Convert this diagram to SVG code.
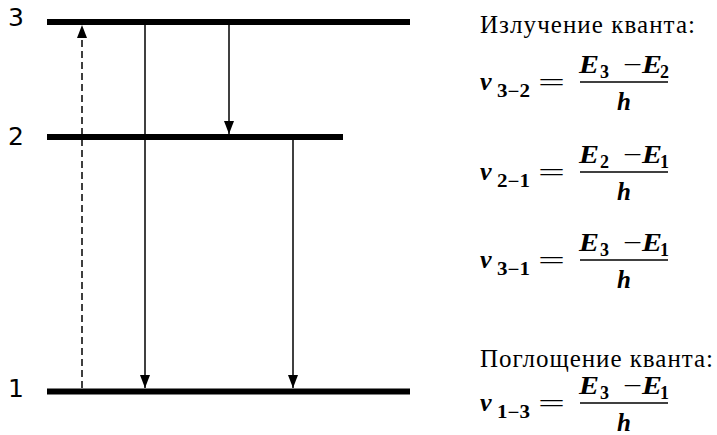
<svg xmlns="http://www.w3.org/2000/svg" width="717" height="435" viewBox="0 0 717 435">
<defs>
<marker id="ah" markerUnits="userSpaceOnUse" markerWidth="13" markerHeight="10" refX="13" refY="5" orient="auto">
<path d="M0,0 L13,5 L0,10 z" fill="#000"/>
</marker>
</defs>
<g id="level3"><line stroke="#000" stroke-width="6" x1="47" y1="22" x2="410" y2="22"/><text font-family="DejaVu Sans" font-size="25" x="8" y="26">3</text></g>
<g id="level2"><line stroke="#000" stroke-width="6" x1="47" y1="137" x2="343" y2="137"/><text font-family="DejaVu Sans" font-size="25" x="8" y="145">2</text></g>
<g id="level1"><line stroke="#000" stroke-width="6" x1="47" y1="391.5" x2="410" y2="391.5"/><text font-family="DejaVu Sans" font-size="25" x="8" y="397">1</text></g>
<g id="connectors" stroke="#000" stroke-width="1.5" fill="none">
<line x1="82" y1="388" x2="82" y2="25" stroke-dasharray="7,4" marker-end="url(#ah)"/>
<line x1="145" y1="25" x2="145" y2="388" marker-end="url(#ah)"/>
<line x1="229" y1="25" x2="229" y2="134" marker-end="url(#ah)"/>
<line x1="293" y1="140" x2="293" y2="388" marker-end="url(#ah)"/>
</g>
<line stroke="#000" stroke-width="1.5" x1="580" y1="82" x2="668" y2="82"/>
<line stroke="#000" stroke-width="1.5" x1="580" y1="172" x2="668" y2="172"/>
<line stroke="#000" stroke-width="1.5" x1="580" y1="260" x2="668" y2="260"/>
<line stroke="#000" stroke-width="1.5" x1="580" y1="403" x2="668" y2="403"/>
<text font-family="Liberation Serif" style="font-family:'Liberation Serif'" font-size="25" x="480" y="33" textLength="215" lengthAdjust="spacing">Излучение кванта:</text>
<text font-family="Liberation Serif" style="font-family:'Liberation Serif'" font-size="26" font-style="italic" font-weight="bold" x="480" y="90">ν</text>
<text font-family="Liberation Serif" style="font-family:'Liberation Serif'" font-size="18" font-weight="bold" x="497" y="97" textLength="33" lengthAdjust="spacingAndGlyphs">3−2</text>
<text font-family="Liberation Serif" style="font-family:'Liberation Serif'" font-size="25" x="538" y="91" textLength="27" lengthAdjust="spacingAndGlyphs">=</text>
<text font-family="Liberation Serif" style="font-family:'Liberation Serif'" font-size="25" font-style="italic" font-weight="bold" x="579" y="73" textLength="20" lengthAdjust="spacingAndGlyphs">E</text>
<text font-family="Liberation Serif" style="font-family:'Liberation Serif'" font-size="18" font-weight="bold" x="600" y="78">3</text>
<text font-family="Liberation Serif" style="font-family:'Liberation Serif'" font-size="25" x="623" y="73" textLength="19" lengthAdjust="spacingAndGlyphs">−</text>
<text font-family="Liberation Serif" style="font-family:'Liberation Serif'" font-size="25" font-style="italic" font-weight="bold" x="642" y="73" textLength="20" lengthAdjust="spacingAndGlyphs">E</text>
<text font-family="Liberation Serif" style="font-family:'Liberation Serif'" font-size="18" font-weight="bold" x="660" y="78">2</text>
<text font-family="Liberation Serif" style="font-family:'Liberation Serif'" font-size="25" font-style="italic" font-weight="bold" x="617" y="110">h</text>
<text font-family="Liberation Serif" style="font-family:'Liberation Serif'" font-size="26" font-style="italic" font-weight="bold" x="480" y="180">ν</text>
<text font-family="Liberation Serif" style="font-family:'Liberation Serif'" font-size="18" font-weight="bold" x="497" y="187" textLength="33" lengthAdjust="spacingAndGlyphs">2−1</text>
<text font-family="Liberation Serif" style="font-family:'Liberation Serif'" font-size="25" x="538" y="181" textLength="27" lengthAdjust="spacingAndGlyphs">=</text>
<text font-family="Liberation Serif" style="font-family:'Liberation Serif'" font-size="25" font-style="italic" font-weight="bold" x="579" y="163" textLength="20" lengthAdjust="spacingAndGlyphs">E</text>
<text font-family="Liberation Serif" style="font-family:'Liberation Serif'" font-size="18" font-weight="bold" x="600" y="168">2</text>
<text font-family="Liberation Serif" style="font-family:'Liberation Serif'" font-size="25" x="623" y="163" textLength="19" lengthAdjust="spacingAndGlyphs">−</text>
<text font-family="Liberation Serif" style="font-family:'Liberation Serif'" font-size="25" font-style="italic" font-weight="bold" x="642" y="163" textLength="20" lengthAdjust="spacingAndGlyphs">E</text>
<text font-family="Liberation Serif" style="font-family:'Liberation Serif'" font-size="18" font-weight="bold" x="660" y="168">1</text>
<text font-family="Liberation Serif" style="font-family:'Liberation Serif'" font-size="25" font-style="italic" font-weight="bold" x="617" y="200">h</text>
<text font-family="Liberation Serif" style="font-family:'Liberation Serif'" font-size="26" font-style="italic" font-weight="bold" x="480" y="268">ν</text>
<text font-family="Liberation Serif" style="font-family:'Liberation Serif'" font-size="18" font-weight="bold" x="497" y="275" textLength="33" lengthAdjust="spacingAndGlyphs">3−1</text>
<text font-family="Liberation Serif" style="font-family:'Liberation Serif'" font-size="25" x="538" y="269" textLength="27" lengthAdjust="spacingAndGlyphs">=</text>
<text font-family="Liberation Serif" style="font-family:'Liberation Serif'" font-size="25" font-style="italic" font-weight="bold" x="579" y="251" textLength="20" lengthAdjust="spacingAndGlyphs">E</text>
<text font-family="Liberation Serif" style="font-family:'Liberation Serif'" font-size="18" font-weight="bold" x="600" y="256">3</text>
<text font-family="Liberation Serif" style="font-family:'Liberation Serif'" font-size="25" x="623" y="251" textLength="19" lengthAdjust="spacingAndGlyphs">−</text>
<text font-family="Liberation Serif" style="font-family:'Liberation Serif'" font-size="25" font-style="italic" font-weight="bold" x="642" y="251" textLength="20" lengthAdjust="spacingAndGlyphs">E</text>
<text font-family="Liberation Serif" style="font-family:'Liberation Serif'" font-size="18" font-weight="bold" x="660" y="256">1</text>
<text font-family="Liberation Serif" style="font-family:'Liberation Serif'" font-size="25" font-style="italic" font-weight="bold" x="617" y="288">h</text>
<text font-family="Liberation Serif" style="font-family:'Liberation Serif'" font-size="25" x="480" y="367" textLength="233" lengthAdjust="spacing">Поглощение кванта:</text>
<text font-family="Liberation Serif" style="font-family:'Liberation Serif'" font-size="26" font-style="italic" font-weight="bold" x="480" y="411">ν</text>
<text font-family="Liberation Serif" style="font-family:'Liberation Serif'" font-size="18" font-weight="bold" x="497" y="418" textLength="33" lengthAdjust="spacingAndGlyphs">1−3</text>
<text font-family="Liberation Serif" style="font-family:'Liberation Serif'" font-size="25" x="538" y="412" textLength="27" lengthAdjust="spacingAndGlyphs">=</text>
<text font-family="Liberation Serif" style="font-family:'Liberation Serif'" font-size="25" font-style="italic" font-weight="bold" x="579" y="394" textLength="20" lengthAdjust="spacingAndGlyphs">E</text>
<text font-family="Liberation Serif" style="font-family:'Liberation Serif'" font-size="18" font-weight="bold" x="600" y="399">3</text>
<text font-family="Liberation Serif" style="font-family:'Liberation Serif'" font-size="25" x="623" y="394" textLength="19" lengthAdjust="spacingAndGlyphs">−</text>
<text font-family="Liberation Serif" style="font-family:'Liberation Serif'" font-size="25" font-style="italic" font-weight="bold" x="642" y="394" textLength="20" lengthAdjust="spacingAndGlyphs">E</text>
<text font-family="Liberation Serif" style="font-family:'Liberation Serif'" font-size="18" font-weight="bold" x="660" y="399">1</text>
<text font-family="Liberation Serif" style="font-family:'Liberation Serif'" font-size="25" font-style="italic" font-weight="bold" x="617" y="431">h</text>
</svg>
